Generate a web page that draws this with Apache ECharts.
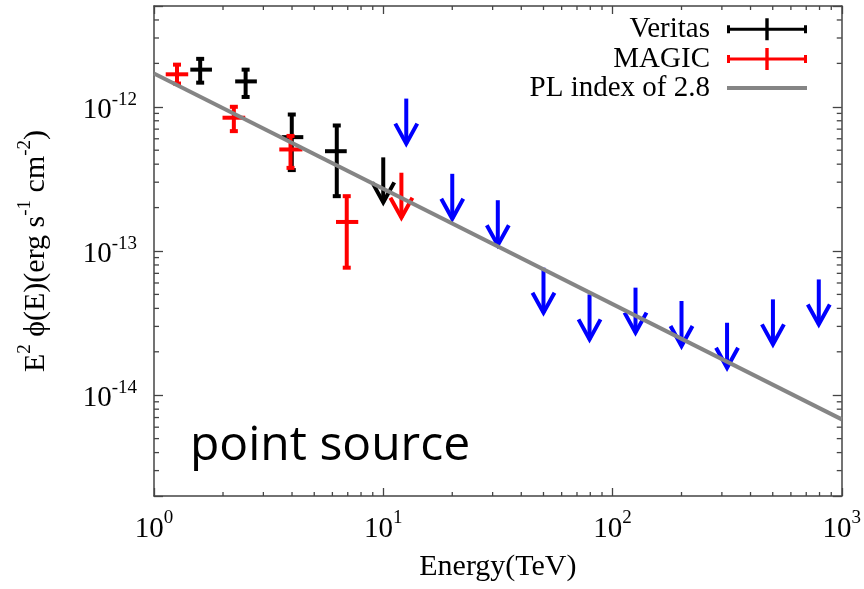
<!DOCTYPE html>
<html>
<head>
<meta charset="utf-8">
<script src="https://cdn.jsdelivr.net/npm/echarts@6/dist/echarts.min.js"></script>
<style>
  html, body { margin: 0; padding: 0; background: #ffffff; }
  #chart { width: 864px; height: 589px; }
</style>
</head>
<body>
<div id="chart"></div>
<script>
// Axis ranges: energy in TeV, E^2 flux in erg s^-1 cm^-2
const X_MIN = 1, X_MAX = 1000;
const Y_MIN = 2e-15, Y_MAX = 5e-12;

// Veritas flux points (value, flux error band, energy bin edges)
const veritasE    = [1.59, 2.51, 3.99, 6.27];
const veritasF    = [1.81e-12, 1.50e-12, 6.16e-13, 4.92e-13];
const veritasFHi  = [2.15e-12, 1.81e-12, 8.84e-13, 7.42e-13];
const veritasFLo  = [1.47e-12, 1.17e-12, 3.64e-13, 2.40e-13];
const veritasELo  = [1.44, 2.26, 3.61, 5.57];
const veritasEHi  = [1.79, 2.81, 4.48, 6.93];
// Veritas upper limit
const veritasUlE  = [10.0];
const veritasUlF  = [4.46e-13];

// MAGIC flux points
const magicE      = [1.26, 2.23, 3.94, 6.93];
const magicF      = [1.68e-12, 8.40e-13, 5.06e-13, 1.59e-13];
const magicFHi    = [1.96e-12, 1.00e-12, 6.28e-13, 2.40e-13];
const magicFLo    = [1.45e-12, 6.78e-13, 3.77e-13, 7.66e-14];
const magicELo    = [1.125, 1.99, 3.52, 6.22];
const magicEHi    = [1.41, 2.50, 4.44, 7.78];
// MAGIC upper limit
const magicUlE    = [12.0];
const magicUlF    = [3.49e-13];

// High-energy upper limits
const ulE         = [12.6, 20.0, 31.6, 50.0, 79.4, 126, 200, 316, 501, 794];
const ulF         = [1.14e-12, 3.43e-13, 2.25e-13, 7.66e-14, 5.0e-14, 5.57e-14, 4.5e-14, 3.18e-14, 4.62e-14, 6.35e-14];

// Power law with index 2.8, end points of the drawn segment
const plE         = [1, 1000];
const plF         = [1.70e-12, 6.8e-15];

// Minor tick multipliers within each decade
const minorMultipliers = [2, 3, 4, 5, 6, 7, 8, 9];

const SERIF = 'Liberation Serif, Times New Roman, serif';
const FRAME = '#444444';
const ARROW_LEN = 45, HEAD_W = 11, HEAD_H = 20;
const BAR_W = 4, CAP_HALF = 4;

function zip(...cols) { return cols[0].map((_, i) => cols.map(c => c[i])); }

function minorValues(lo, hi) {
  const out = [];
  for (let d = Math.floor(Math.log10(lo)); d <= Math.ceil(Math.log10(hi)); d++) {
    for (const m of minorMultipliers) {
      const v = m * Math.pow(10, d);
      if (v > lo * 1.0001 && v < hi * 0.9999) out.push(v);
    }
  }
  return out;
}

function powerLabel(v) {
  const e = Math.round(Math.log10(v));
  if (Math.abs(v / Math.pow(10, e) - 1) > 1e-6) return '';
  return '{b|10}{s|' + e + '}';
}
const labelRich = {
  b: { fontSize: 29, lineHeight: 40, fontFamily: SERIF, color: '#000' },
  s: { fontSize: 19, lineHeight: 19, verticalAlign: 'top', fontFamily: SERIF, color: '#000' }
};

function seg(x1, y1, x2, y2, color) {
  return { type: 'line', shape: { x1, y1, x2, y2 }, style: { stroke: color, lineWidth: BAR_W, fill: null } };
}

function renderErrorBar(params, api) {
  const color = api.visual('color');
  const e = api.value(0), f = api.value(1);
  const top = api.coord([e, api.value(2)]);
  const bot = api.coord([e, api.value(3)]);
  const left = api.coord([api.value(4), f]);
  const right = api.coord([api.value(5), f]);
  return {
    type: 'group',
    children: [
      seg(top[0], top[1], bot[0], bot[1], color),
      seg(left[0], left[1], right[0], right[1], color),
      seg(top[0] - CAP_HALF, top[1], top[0] + CAP_HALF, top[1], color),
      seg(bot[0] - CAP_HALF, bot[1], bot[0] + CAP_HALF, bot[1], color)
    ]
  };
}

function renderArrow(params, api) {
  const color = api.visual('color');
  const p = api.coord([api.value(0), api.value(1)]);
  const tipY = p[1] + ARROW_LEN;
  return {
    type: 'group',
    children: [
      seg(p[0], p[1], p[0], tipY, color),
      {
        type: 'polyline',
        shape: { points: [[p[0] - HEAD_W, tipY - HEAD_H], [p[0], tipY], [p[0] + HEAD_W, tipY - HEAD_H]] },
        style: { stroke: color, lineWidth: BAR_W, fill: null, lineJoin: 'miter' }
      }
    ]
  };
}

function renderMinorX(params, api) {
  const v = api.value(0);
  const b = api.coord([v, Y_MIN]);
  const t = api.coord([v, Y_MAX]);
  const st = { stroke: FRAME, lineWidth: 1.3 };
  return { type: 'group', children: [
    { type: 'line', shape: { x1: b[0], y1: b[1], x2: b[0], y2: b[1] - 4 }, style: st },
    { type: 'line', shape: { x1: t[0], y1: t[1], x2: t[0], y2: t[1] + 4 }, style: st }
  ] };
}
function renderMinorY(params, api) {
  const v = api.value(1);
  const l = api.coord([X_MIN, v]);
  const r = api.coord([X_MAX, v]);
  const st = { stroke: FRAME, lineWidth: 1.3 };
  return { type: 'group', children: [
    { type: 'line', shape: { x1: l[0], y1: l[1], x2: l[0] + 5, y2: l[1] }, style: st },
    { type: 'line', shape: { x1: r[0], y1: r[1], x2: r[0] - 5, y2: r[1] }, style: st }
  ] };
}

// Legend glyph: horizontal bar with end caps and a central vertical bar (80 x 22 box)
const ERR_ICON = 'path://M0 9.5H80V12.5H0Z M0 7H3V15H0Z M77 7H80V15H77Z M38.3 0H41.7V22H38.3Z';

const legendBase = {
  right: 57, orient: 'horizontal', align: 'right', padding: 0,
  itemWidth: 80, selectedMode: false,
  textStyle: { fontFamily: SERIF, fontSize: 29, color: '#000', padding: [0, 12, 0, 0] }
};

function axisCommon(pos, showLabel) {
  return {
    type: 'log', logBase: 10, position: pos,
    axisLine: { show: true, onZero: false, lineStyle: { color: FRAME, width: 1.5 } },
    axisTick: { show: true, inside: true, length: 9, lineStyle: { color: FRAME, width: 1.3 } },
    axisLabel: { show: showLabel, formatter: powerLabel, rich: labelRich },
    splitLine: { show: false },
    minorTick: { show: false }
  };
}

const chart = echarts.init(document.getElementById('chart'), null, { renderer: 'canvas' });
chart.setOption({
  animation: false,
  backgroundColor: '#ffffff',
  textStyle: { fontFamily: SERIF },
  grid: { left: 154, right: 22, top: 6, bottom: 93, containLabel: false },
  xAxis: [
    Object.assign(axisCommon('bottom', true), {
      min: X_MIN, max: X_MAX,
      axisTick: { show: true, inside: true, length: 8, lineStyle: { color: FRAME, width: 1.3 } },
      axisLabel: { show: true, formatter: powerLabel, rich: labelRich, margin: 13 },
      name: 'Energy(TeV)', nameLocation: 'middle', nameGap: 56,
      nameTextStyle: { fontFamily: SERIF, fontSize: 30, color: '#000' }
    }),
    Object.assign(axisCommon('top', false), {
      min: X_MIN, max: X_MAX,
      axisTick: { show: true, inside: true, length: 8, lineStyle: { color: FRAME, width: 1.3 } }
    })
  ],
  yAxis: [
    Object.assign(axisCommon('left', true), {
      min: Y_MIN, max: Y_MAX,
      axisLabel: { show: true, formatter: powerLabel, rich: labelRich, margin: 17, padding: [7, 0, 0, 0] }
    }),
    Object.assign(axisCommon('right', false), { min: Y_MIN, max: Y_MAX })
  ],
  legend: [
    Object.assign({}, legendBase, { top: 14.8, itemHeight: 22,
      data: [{ name: 'Veritas', icon: ERR_ICON, itemStyle: { color: '#000000', borderWidth: 0 } }] }),
    Object.assign({}, legendBase, { top: 44.5, itemHeight: 22,
      data: [{ name: 'MAGIC', icon: ERR_ICON, itemStyle: { color: '#ff0000', borderWidth: 0 } }] }),
    Object.assign({}, legendBase, { top: 73.5, itemHeight: 4,
      data: [{ name: 'PL index of 2.8', icon: 'rect', itemStyle: { color: '#858585', borderWidth: 0 } }] })
  ],
  graphic: [
    {
      type: 'text', x: 36, y: 251, rotation: Math.PI / 2, silent: true,
      style: {
        text: '{m|E}{s|2}{m| ϕ(E)(erg s}{s|-1}{m| cm}{s|-2}{m|)}',
        rich: {
          m: { fontSize: 30, lineHeight: 40, fontFamily: SERIF, fill: '#000' },
          s: { fontSize: 19, lineHeight: 19, verticalAlign: 'top', fontFamily: SERIF, fill: '#000' }
        },
        align: 'center', verticalAlign: 'middle', fill: '#000'
      }
    },
    {
      type: 'text', x: 190, y: 446, silent: true,
      style: {
        text: 'point source', fontFamily: 'Open Sans', fontSize: 48, fill: '#000',
        align: 'left', verticalAlign: 'middle'
      }
    }
  ],
  series: [
    { type: 'custom', name: 'minor-x', silent: true, renderItem: renderMinorX,
      data: minorValues(X_MIN, X_MAX).map(v => [v, Y_MIN]), z: 1 },
    { type: 'custom', name: 'minor-y', silent: true, renderItem: renderMinorY,
      data: minorValues(Y_MIN, Y_MAX).map(v => [X_MIN, v]), z: 1 },
    { type: 'custom', name: 'Upper limits', silent: true, renderItem: renderArrow,
      itemStyle: { color: '#0000ff' }, data: zip(ulE, ulF), z: 2 },
    { type: 'custom', name: 'Veritas', silent: true, renderItem: renderErrorBar,
      itemStyle: { color: '#000000' },
      data: zip(veritasE, veritasF, veritasFHi, veritasFLo, veritasELo, veritasEHi), z: 2 },
    { type: 'custom', name: 'Veritas', silent: true, renderItem: renderArrow,
      itemStyle: { color: '#000000' }, data: zip(veritasUlE, veritasUlF), z: 2 },
    { type: 'custom', name: 'MAGIC', silent: true, renderItem: renderErrorBar,
      itemStyle: { color: '#ff0000' },
      data: zip(magicE, magicF, magicFHi, magicFLo, magicELo, magicEHi), z: 2 },
    { type: 'custom', name: 'MAGIC', silent: true, renderItem: renderArrow,
      itemStyle: { color: '#ff0000' }, data: zip(magicUlE, magicUlF), z: 2 },
    { type: 'line', name: 'PL index of 2.8', silent: true, symbol: 'none',
      lineStyle: { color: '#858585', width: 4 }, itemStyle: { color: '#858585' },
      data: zip(plE, plF), z: 4 }
  ]
});
</script>
</body>
</html>
